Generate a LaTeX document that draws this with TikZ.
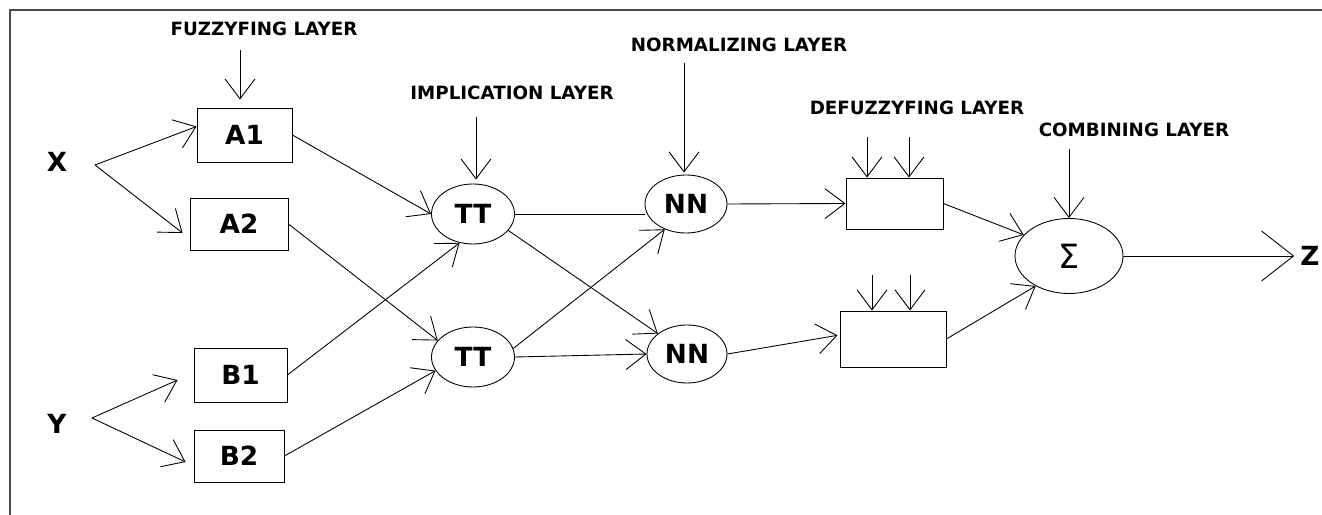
\documentclass[tikz,border=0pt]{standalone}
\usepackage{fontspec}
\setmainfont{DejaVu Sans}
\usetikzlibrary{arrows.meta,shapes.geometric}

\begin{document}
\begin{tikzpicture}[x=0.2mm,y=-0.2mm,
    box/.style={draw,line width=0.5pt,minimum width=19mm,minimum height=10.8mm,font=\fontsize{15}{17}\selectfont\bfseries},
    unit/.style={draw,ellipse,line width=0.5pt,inner sep=0pt,minimum width=16.6mm,minimum height=12mm,font=\fontsize{15}{17}\selectfont\bfseries},
    layer/.style={font=\fontsize{10.4}{12}\selectfont\bfseries},
    var/.style={font=\fontsize{15}{17}\selectfont\bfseries},
    link/.style={line width=0.5pt,-{Straight Barb[length=4mm,width=6mm]}},
    wire/.style={line width=0.5pt}]
    \useasboundingbox (0,0) rectangle (1322,515);
    \draw[line width=0.8pt,gray!60!black] (10,515) -- (10,10) -- (1322,10);

    \node[var] (X) at (57,162) {X};
    \node[var] (Y) at (57,424) {Y};
    \node[var] (Z) at (1310,256) {Z};
    \coordinate (xfork) at (95,165);
    \coordinate (yfork) at (92,418);

    \node[box] (A1) at (244.5,135) {A1};
    \node[box,minimum width=19.6mm,minimum height=10.4mm] (A2) at (239,224) {A2};
    \node[box,minimum width=18.6mm] (B1) at (240.5,375) {B1};
    \node[box,minimum width=18mm,minimum height=10.4mm] (B2) at (239,456) {B2};

    \node[unit] (TT1) at (473,214) {TT};
    \node[unit] (TT2) at (473,357) {TT};
    \node[unit,minimum width=16.4mm,minimum height=11.6mm] (NN1) at (686,204) {NN};
    \node[unit,minimum width=16mm,minimum height=11.6mm] (NN2) at (687,354) {NN};

    \node[box,minimum width=19.4mm,minimum height=10.2mm] (D1) at (894.5,203.5) {};
    \node[box,minimum width=21.2mm,minimum height=11.2mm] (D2) at (893,339) {};
    \node[unit,minimum width=21.6mm,minimum height=15mm,font=\fontsize{19}{21}\selectfont] (S) at (1069,256) {Σ};

    \node[layer] (fuzzL) at (264,29) {FUZZYFING LAYER};
    \node[layer] (impL) at (512,93) {IMPLICATION LAYER};
    \node[layer] (normL) at (739,45) {NORMALIZING LAYER};
    \node[layer] (defL) at (917,108) {DEFUZZYFING LAYER};
    \node[layer] (combL) at (1134,130) {COMBINING LAYER};

    \coordinate (fuzzIn) at (240,50);
    \coordinate (impIn) at (476,117);
    \coordinate (normIn) at (684,63);
    \coordinate (defInA) at (867,137);
    \coordinate (defInB) at (909,137);
    \coordinate (defInC) at (872,275);
    \coordinate (defInD) at (910,275);
    \coordinate (combIn) at (1069,149);

    \draw[link,shorten >=1.6mm] (fuzzIn) -- (fuzzIn |- A1.north);
    \draw[link,shorten >=0.8mm] (impIn) -- (impIn |- TT1.north);
    \draw[link,shorten >=0.4mm] (normIn) -- (normIn |- NN1.north);
    \draw[link] (defInA) -- (defInA |- D1.north);
    \draw[link] (defInB) -- (defInB |- D1.north);
    \draw[link] (defInC) -- (defInC |- D2.north);
    \draw[link] (defInD) -- (defInD |- D2.north);
    \draw[link] (combIn) -- (combIn |- S.north);

    \draw[link] (xfork) -- ([yshift=1.7mm]A1.west);
    \draw[link] (xfork) -- ([xshift=-1.4mm,yshift=-1.8mm]A2.west);
    \draw[link] (yfork) -- ([xshift=-3.2mm,yshift=-1mm]B1.west);
    \draw[link] (yfork) -- ([xshift=-1.6mm,yshift=-1.2mm]B2.west);

    \draw[link] (A1.east) -- (TT1.west);
    \draw[link] (A2.east) -- (TT2.155);
    \draw[link] (B1.east) -- (TT1.245);
    \draw[link] (B2.east) -- (TT2.200);

    \draw[wire] (TT1.east) -- (NN1.west |- TT1.east);
    \draw[link] (TT1.-25) -- (NN2.145);
    \draw[link] (TT2.12) -- (NN1.230);
    \draw[link] (TT2.east) -- (NN2.west);

    \draw[link] (NN1.east) -- (D1.west);
    \draw[link,shorten >=0.4mm] (NN2.east) -- ([yshift=0.8mm]D2.west);
    \draw[link] (D1.east) -- (S.155);
    \draw[link] (D2.east) -- (S.222);
    \draw[line width=0.5pt,-{Straight Barb[length=6.4mm,width=10mm]}] (S.east) -- (Z.west);
\end{tikzpicture}
\end{document}
